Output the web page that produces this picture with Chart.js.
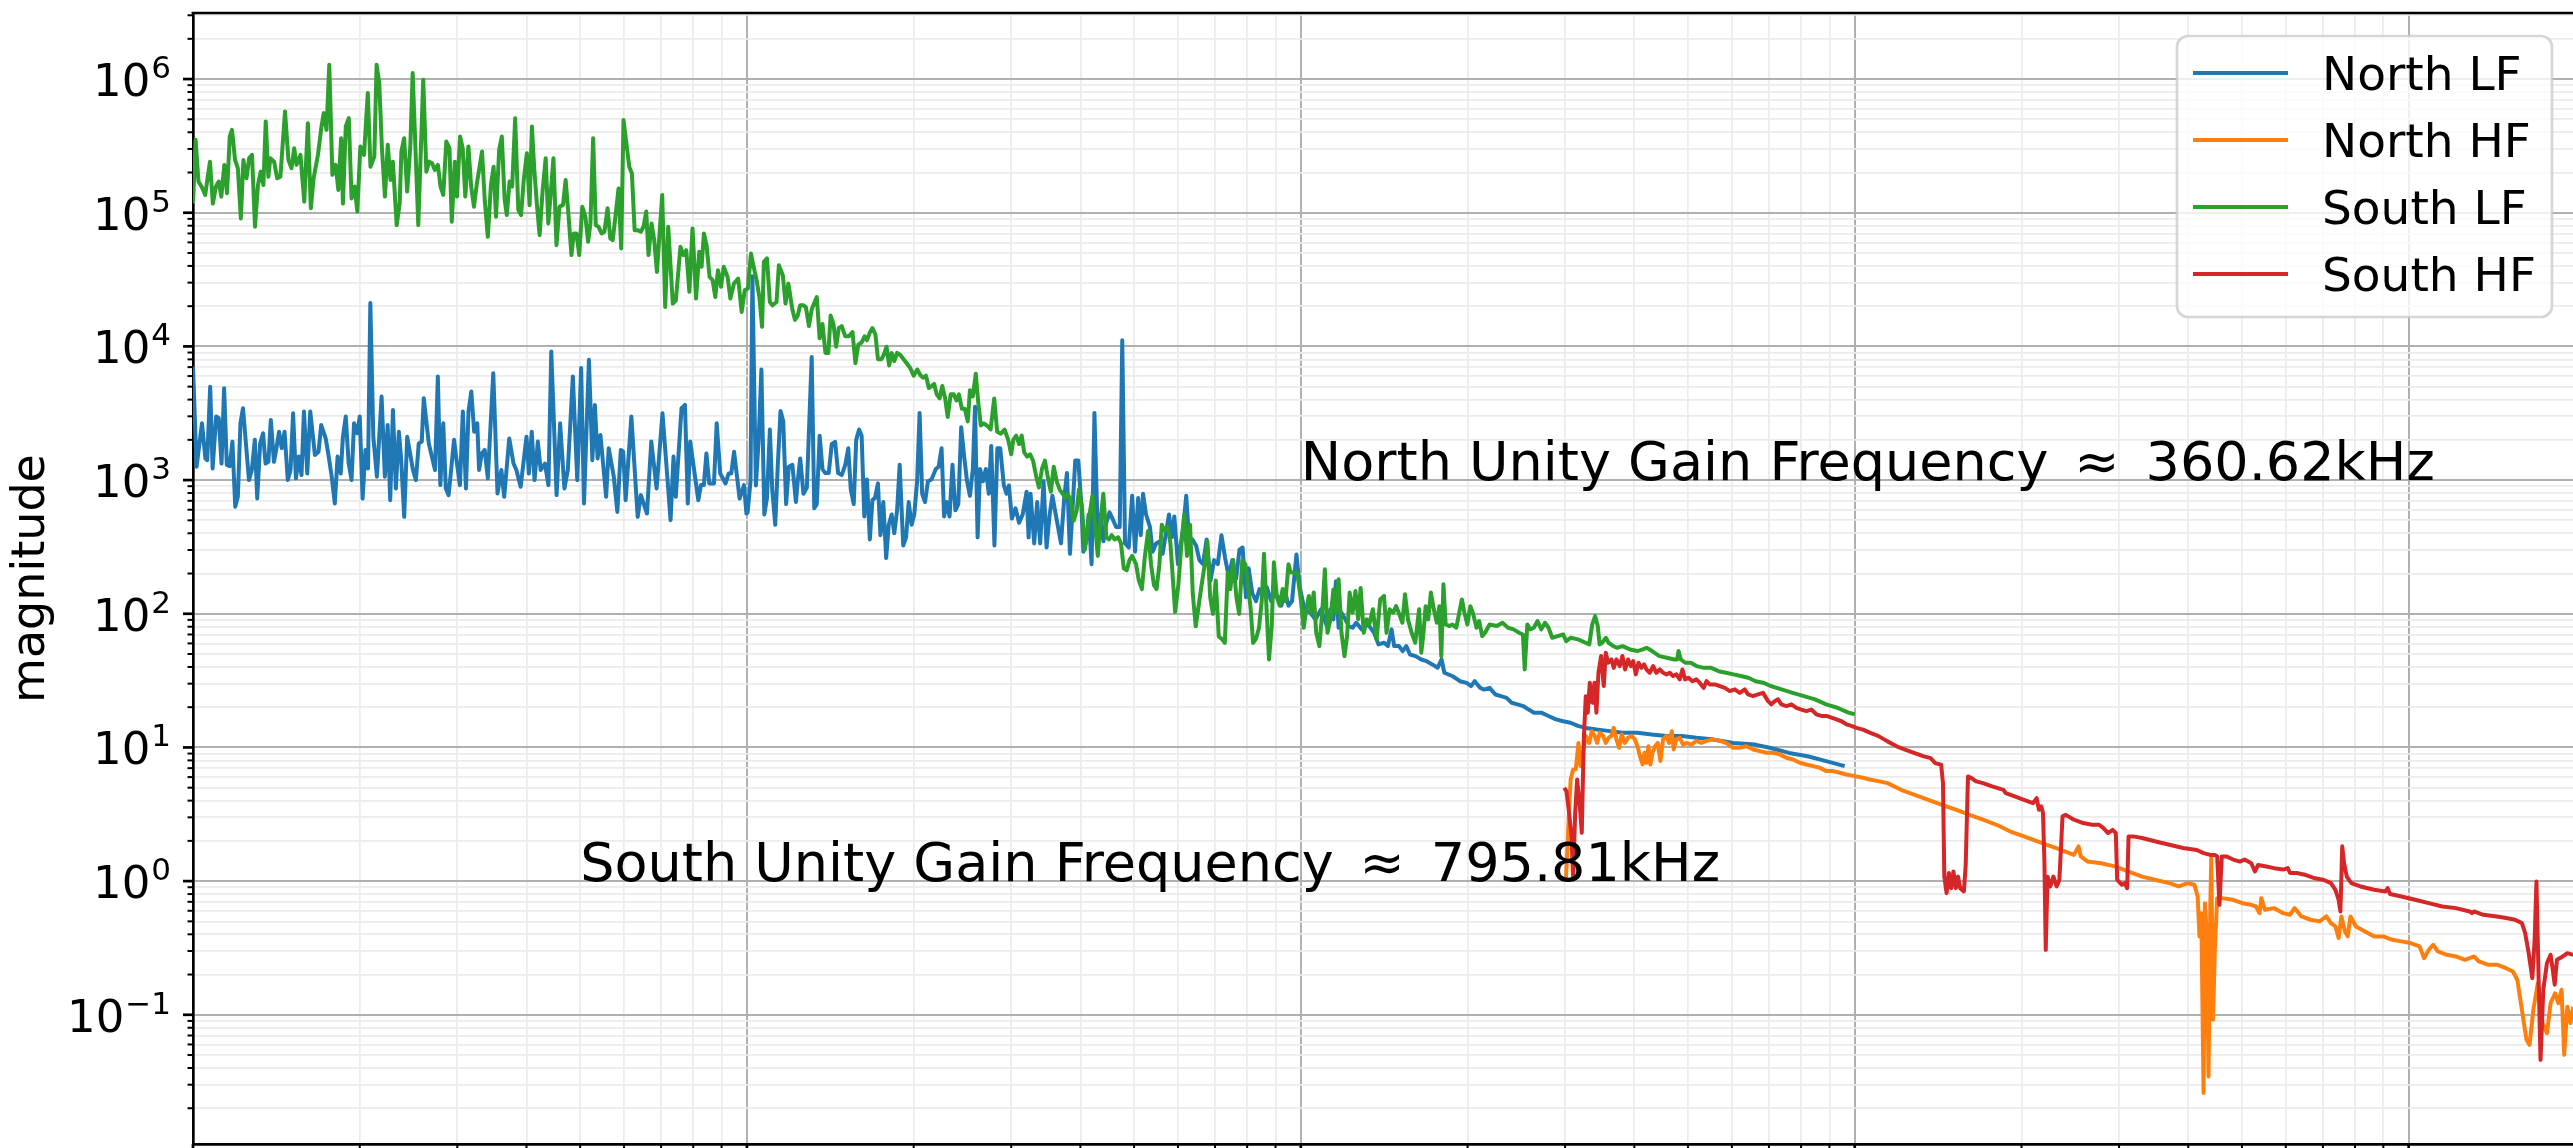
<!DOCTYPE html>
<html>
<head>
<meta charset="utf-8">
<script src="https://cdn.jsdelivr.net/npm/chart.js@4.4.1/dist/chart.umd.min.js"></script>
<style>
  html, body { margin: 0; padding: 0; background: #fff; }
  canvas { display: block; }
</style>
</head>
<body>
<canvas id="bode" width="2573" height="1148"></canvas>
<script>
// [frequency, magnitude] pairs
const northLF = [
  [100,7080],[101.5,1260],[103.8,2660],[105.3,1450],[106.1,1410],[107.4,5000],[108.5,1220],[110.1,2990],[111.3,2900],[112.6,1330],
  [113.8,4870],[115.1,1300],[116.5,1270],[117.8,1940],[119.2,631],[120.5,750],[121.8,2660],[123.1,3450],[124.6,1880],[126.2,1000],
  [127.7,1190],[129.3,2000],[130.6,728],[132.2,1880],[133.8,2240],[135.2,1330],[136.8,1370],[138.2,2820],[140,1370],[141.3,1680],
  [143,2300],[144.6,1730],[146.3,2300],[148.3,1000],[150,1190],[151.6,3160],[153.4,1030],[155.2,1500],[157,1090],[158.6,3260],
  [160.8,1120],[162.8,3260],[166,1540],[168.5,1630],[170.4,2580],[173.6,2050],[175.8,1500],[178,1060],[180.3,668],[182.4,1500],
  [184.8,1120],[186.5,2110],[188.7,2990],[191,1330],[193.3,1000],[195.3,2660],[198,2240],[200,2990],[202.4,728],[204.8,1680],
  [207,1220],[209,21100],[211.6,2110],[214.8,1060],[219,4220],[222,1060],[224.6,2580],[227,708],[229.6,3350],[232.4,866],
  [235.3,2300],[237.4,1500],[240.6,531],[243.6,2110],[246.6,1580],[249.5,1190],[252.6,1000],[255.6,1880],[258.8,1940],[261,4100],
  [266.5,1880],[273.5,1190],[276.7,5960],[279.6,917],[283,2660],[286,866],[289.4,772],[296,2000],[299.6,1330],[303.3,917],
  [307,3260],[311,866],[314.3,3260],[318,4600],[321.8,2300],[326,2660],[328.4,1190],[332.2,1580],[336.2,1680],[340.6,1030],
  [348.4,6310],[354.6,794],[360.3,1190],[364.6,750],[372.3,2050],[379,1330],[383.5,1190],[390.4,891],[400,2110],[404,1120],
  [408.8,2300],[413.6,1000],[419.3,1940],[424.3,1190],[431.8,1330],[438.2,917],[443.4,9170],[453.3,772],[460,2660],[468.3,866],
  [475,1190],[485,5960],[494,1000],[502,6880],[508,668],[518.5,7940],[526,1410],[531.5,3650],[537.6,1450],[544,2170],
  [557,750],[563,1730],[575,1060],[583.5,578],[592,1680],[598,1630],[604,708],[618.5,2990],[635,531],[643.5,772],
  [660,562],[672,1940],[687,866],[704,3160],[719,1000],[728,501],[737,1500],[744,750],[762,3450],[773,3650],
  [782,668],[790,1940],[817,708],[826,917],[836,917],[845,1580],[855,944],[872,944],[882,2660],[895,1120],
  [915,944],[927,1120],[937,1120],[948,1630],[970,728],[988,917],[998,562],
  [1003,573],[1015,980],[1023,33500],[1038,912],[1050,2000],[1062,6720],[1075,553],[1087,736],[1100,2390],[1111,849],
  [1125,463],[1137,1300],[1150,3290],[1163,2750],[1177,661],[1190,1260],[1208,1300],[1226,685],[1235,980],[1248,1450],
  [1265,790],[1283,880],[1309,8320],[1323,615],[1337,661],[1353,2150],[1369,1210],[1384,1130],[1405,1130],[1423,1860],
  [1443,1930],[1461,1130],[1483,1090],[1505,1300],[1524,1730],[1540,849],[1559,661],[1575,2000],[1594,2390],[1611,2150],
  [1629,534],[1647,1010],[1667,360],[1685,710],[1703,736],[1724,945],[1742,387],[1763,685],[1784,261],[1803,463],
  [1825,553],[1845,401],[1867,594],[1887,1300],[1915,324],[1938,373],[1959,685],[1983,463],[2005,553],[2029,980],
  [2050,3180],[2072,790],[2097,685],[2122,980],[2154,1010],[2193,1210],[2219,1260],[2246,1730],[2270,534],[2294,685],
  [2322,534],[2350,1300],[2379,594],[2408,661],[2437,2480],[2467,1500],[2497,980],[2527,763],[2558,1210],[2581,3530],
  [2609,373],[2636,1210],[2668,980],[2700,1210],[2733,790],[2761,1800],[2798,324],[2832,1730],[2866,1730],[2910,912],
  [2941,790],[2972,912],[3008,515],[3054,615],[3100,480],[3147,553],[3198,819],[3225,373],[3251,790],[3301,336],
  [3342,685],[3384,336],[3432,980],[3475,313],[3520,553],[3560,763],[3610,553],[3690,336],[3740,736],[3782,1130],
  [3830,281],[3870,594],[3915,1400],[3965,1400],[4015,661],[4050,291],[4100,360],[4140,553],[4190,235],[4240,3180],
  [4300,373],[4350,553],[4400,348],[4455,480],[4515,573],[4570,515],[4640,446],[4710,446],[4760,11100],[4815,336],
  [4890,313],[4960,763],[5020,291],[5085,736],[5140,387],[5190,790],[5255,553],[5340,446],[5400,291],[5480,336],
  [5560,348],[5630,281],[5700,387],[5780,553],[5850,373],[5910,534],[6000,235],[6060,313],[6140,463],[6210,763],
  [6290,336],[6370,360],[6470,324],[6560,252],[6660,235],[6760,360],[6870,177],[6970,252],[7080,235],[7190,387],
  [7300,261],[7410,190],[7520,252],[7640,183],[7750,302],[7850,313],[7960,133],[8050,219],[8170,143],[8300,124],
  [8420,153],[8550,143],[8680,158],[8840,124],[8970,143],[9110,133],[9220,115],[9360,148],[9500,115],[9640,124],
  [9820,278],[9950,160],
  [10150,108],[10390,102],[10630,90.8],[10880,108],[11140,80.9],[11310,108],[11450,90.8],[11570,175],[11700,78.6],[11840,102],
  [12030,90.8],[12210,80.9],[12400,78.6],[12590,85.6],[12880,76.4],[13080,83.2],[13290,80.9],[13560,72.1],[13810,59],[14140,60.7],
  [14360,57.3],[14580,76.4],[14740,57.3],[15040,57.3],[15270,52.6],[15500,57.3],[15740,49.6],[16110,48.2],[16490,45.5],[16870,44.2],
  [17270,41.8],[17660,39.5],[17950,45.5],[18160,36.2],[18800,34.1],[19380,31.3],[19920,30.4],[20290,28.8],[20600,31.3],[21080,27.9],
  [21420,27.1],[21920,27.9],[22450,24.9],[22970,24.2],[23520,23.5],[24020,21.6],[24620,21],[25200,20.4],[25780,19.2],[26360,18.2],
  [27160,18.2],[28000,17.2],[28870,16.2],[29760,15.7],[30680,15.3],[31640,14.5],[32670,14],[34200,13.6],[35840,13.3],[38100,12.9],
  [40500,12.9],[43000,12.5],[45760,12.2],[48730,12.2],[51800,11.8],[55100,11.5],[60400,10.8],[66100,10.5],[70500,9.9],[76100,9.1],
  [82200,8.6],[88800,7.9],[95900,7.25]
];

const northHF = [
  [30100,1.0],[30500,3.44],[30700,5.76],[31020,6.85],[31360,6.85],[31710,10.8],[31980,7.25],[32330,9.12],[32690,12.2],[33150,10.8],
  [33510,13.2],[33930,12.2],[34270,10.8],[34650,12.9],[35130,12.2],[35520,10.8],[35920,11.8],[36370,12.2],[36720,14],[37130,11.5],
  [37550,9.94],[37960,12.5],[38440,10.8],[38980,11.8],[39530,12.2],[40080,11.5],[40530,10.2],[40930,8.61],[41400,7.46],[41720,9.12],
  [42070,7.68],[42420,10.2],[42770,7.46],[43130,9.12],[43600,10.2],[44090,10.8],[44580,7.91],[45080,11.5],[45710,12.2],[46220,10.8],
  [46730,13.2],[47120,9.66],[47640,11.5],[48310,11.8],[48980,10.5],[49660,10.8],[50700,10.5],[51760,11.2],[52860,10.8],[53990,11.2],
  [55490,11.5],[57060,11.2],[58660,10.8],[60300,9.94],[62000,9.94],[63730,10.2],[65520,9.66],[67360,9.39],[69260,9.12],[71200,9.12],
  [73200,8.87],[75260,8.37],[77370,8.13],[79550,7.68],[81780,7.46],[84090,7.25],[86450,7.05],[88890,6.65],[91390,6.65],[93950,6.46],
  [96600,6.28],[100000,6.1],[103500,5.93],[106400,5.76],[110200,5.6],
  [114600,5.41],[121200,4.82],[128300,4.42],[135800,4.06],[143700,3.72],[152200,3.42],[161100,3.13],[170400,2.88],[180300,2.64],[191000,2.35],
  [202000,2.16],[213800,1.98],[222100,1.87],[230700,1.77],[239500,1.67],[248700,1.57],[253500,1.82],[255900,1.53],[263300,1.4],[278600,1.36],
  [294900,1.29],[312100,1.18],[330300,1.08],[349500,1.02],[369900,0.966],[384300,0.912],[399000,0.966],[410400,0.94],[416000,0.768],[419100,0.386],
  [422300,0.576],[426300,0.026],[428700,0.684],[432000,0.41],[435200,0.0346],[438500,0.684],[440200,1.53],[443400,0.0918],[446800,0.306],[451100,0.746],
  [459800,0.746],[482000,0.725],[500600,0.684],[519900,0.665],[529800,0.646],[537900,0.576],[542000,0.746],[550300,0.61],[571500,0.628],[593600,0.576],
  [610600,0.56],[622300,0.628],[640300,0.544],[664900,0.514],[690500,0.5],[710300,0.544],[723800,0.485],[737600,0.458],[747400,0.375],[755900,0.544],
  [767400,0.42],[776200,0.386],[785100,0.544],[803100,0.458],[834100,0.42],[866200,0.386],[899500,0.386],[934100,0.364],[970200,0.354],[1007700,0.344],
  [1046400,0.325],[1066300,0.265],[1086800,0.306],[1107400,0.334],[1128500,0.298],[1172000,0.281],[1217000,0.273],[1264000,0.258],[1313000,0.273],[1338000,0.251],
  [1390000,0.237],[1443000,0.237],[1499000,0.223],[1542000,0.211],[1571000,0.183],[1601000,0.109],[1632000,0.065],[1653000,0.0596],[1679000,0.109],[1711000,0.173],
  [1744000,0.0867],[1777000,0.073],[1804000,0.122],[1838000,0.145],[1863000,0.122],[1888000,0.154],[1909000,0.0502],[1934000,0.115],[1960000,0.0867],[1982000,0.115]
];

const southLF = [
  [100,1.17e5],[101.1,3.51e5],[102.3,1.71e5],[103.6,1.57e5],[105.2,1.36e5],[107.3,2.41e5],[108.6,1.17e5],[110,1.57e5],[111.3,1.71e5],[112.5,1.32e5],
  [113.9,2.28e5],[115.2,1.4e5],[116.5,3.72e5],[117.6,4.17e5],[119.1,2.48e5],[120.5,2.15e5],[122,9.07e4],[123.3,2.48e5],[124.9,1.81e5],[126.3,2.56e5],
  [127.8,2.71e5],[129.4,7.85e4],[131,1.61e5],[132.5,2.03e5],[134,1.61e5],[135.3,4.82e5],[136.8,1.86e5],[137.9,2.56e5],[140.1,2.41e5],[141.9,1.81e5],
  [143.8,1.86e5],[146.6,5.72e5],[148.7,2.48e5],[150.6,2.15e5],[152.3,3.04e5],[153.8,2.28e5],[156.3,2.71e5],[158.8,1.21e5],[161.2,4.68e5],[163.2,1.08e5],
  [165.1,1.81e5],[168.1,2.71e5],[170.6,4.42e5],[172.2,5.56e5],[174.2,4.17e5],[176.2,1.28e6],[178.5,1.92e5],[180.9,2.28e5],[183,1.48e5],[185.1,3.61e5],
  [186.5,1.17e5],[188.7,4.42e5],[191.1,5.1e5],[193.3,1.28e5],[195.8,1.57e5],[198,1.02e5],[200.5,3.13e5],[203.6,2.71e5],[206.8,7.85e5],[209.1,2.21e5],
  [212.5,2.63e5],[214.5,1.28e6],[216.9,9.33e5],[219.3,3.04e5],[222.1,1.32e5],[224.7,3.22e5],[227.3,1.76e5],[229.5,2.41e5],[233.2,8.08e4],[236.1,1.17e5],
  [237.8,2.87e5],[240.5,3.61e5],[243.6,1.44e5],[246.8,3.13e5],[249.2,1.11e6],[255.1,8.08e4],[260.4,9.89e5],[263.8,2.03e5],[266.8,2.41e5],[270.3,2.34e5],
  [273.3,2.09e5],[276.8,2.28e5],[279.8,1.57e5],[283,1.36e5],[286.6,3.41e5],[290.4,3.04e5],[293.2,8.56e4],[297,2.41e5],[299.6,1.32e5],[303.5,3.72e5],
  [306.8,3.04e5],[310.2,1.32e5],[314.2,3.13e5],[317.8,1.57e5],[321.5,1.11e5],[325.5,1.66e5],[332.5,2.87e5],[336.3,1.24e5],[340.6,6.61e4],[345,1.61e5],
  [348.9,2.21e5],[352.4,9.33e4],[357,2.95e5],[361,3.72e5],[365.1,1.28e5],[368.6,9.6e4],[372.8,1.71e5],[376.9,1.57e5],[381.6,5.1e5],[386.6,1.05e5],
  [391,9.6e4],[395.5,1.76e5],[400.6,2.79e5],[405.2,1.14e5],[409.1,4.42e5],[413.2,2.09e5],[417.8,1.14e5],[422.4,6.8e4],[427.8,1.48e5],[433.2,2.56e5],
  [438,8.32e4],[442.9,1.48e5],[447.4,2.56e5],[453.1,5.72e4],[458.8,1.11e5],[465.5,1.14e5],[470.7,1.76e5],[476.8,9.07e4],[482.2,4.82e4],[486.9,7e4],
  [492.3,7e4],[498,4.82e4],[504.4,1.11e5],[511,9.33e4],[516.8,6.06e4],[521.8,8.32e4],[527.7,3.61e5],[533.5,8.08e4],[539.7,7.85e4],[546.7,7e4],
  [553,7.2e4],[560.3,1.08e5],[566.7,6.42e4],[572.4,6.24e4],[578.9,9.33e4],[586.4,1.52e5],[593,5.4e4],[598.7,4.95e5],[607.4,3.04e5],[613.2,2.21e5],
  [619.9,1.97e5],[627,7.41e4],[635.1,7.41e4],[643.4,7.2e4],[650.6,7.85e4],[658,1.02e5],[664.3,4.82e4],[672.6,8.32e4],[680.2,6.24e4],[687.9,3.61e4],
  [703.2,1.36e5],[712,1.97e4],[721,7.85e4],[734.8,2.09e4],[744.2,2.21e4],[758.5,5.56e4],[768.4,4.82e4],[777.1,5.25e4],[787.2,2.56e4],[797.6,7.63e4],
  [809.5,2.28e4],[820.1,5.1e4],[828.2,3.94e4],[836.3,7e4],[845.5,5.72e4],[856.2,3.31e4],[867.1,3.13e4],[876.8,2.34e4],[886.6,3.72e4],[897.9,2.79e4],
  [908,3.94e4],[922.8,3.31e4],[933.5,2.28e4],[947.4,2.95e4],[964.3,3.22e4],[978.4,1.81e4],[991,2.63e4],[1004,2.71e4],[1017,4.95e4],[1027,4.05e4],
  [1041,3.13e4],[1053,2.34e4],[1065,1.4e4],[1073,4.29e4],[1087,4.55e4],[1100,2.15e4],[1112,2.03e4],[1131,2.15e4],[1142,4.05e4],[1161,3.41e4],
  [1174,2.09e4],[1188,2.95e4],
  [1208,18900],[1221,15800],[1235,17000],[1248,20300],[1265,20300],[1278,19600],[1294,14200],[1309,18900],[1323,21100],[1337,23400],
  [1353,11500],[1369,14700],[1386,8940],[1403,8940],[1416,17000],[1433,14700],[1449,9950],[1465,13700],[1483,14200],[1505,11900],
  [1527,11900],[1551,12800],[1570,7480],[1589,10300],[1611,10700],[1631,11900],[1647,11100],[1668,12800],[1685,13700],[1706,12300],
  [1724,8030],[1750,8030],[1766,8630],[1787,9950],[1806,7210],[1825,8940],[1845,7750],[1867,8940],[1892,8630],[1930,7750],
  [1969,6960],[2000,6040],[2030,6720],[2060,6040],[2082,5830],[2105,6040],[2130,4880],[2155,5050],[2178,5240],[2201,4380],
  [2228,4080],[2252,5050],[2280,4080],[2304,2960],[2333,4380],[2362,4380],[2389,3940],[2414,4380],[2444,3410],[2474,3410],
  [2504,2750],[2527,4700],[2558,4230],[2589,6250],[2616,3800],[2644,2560],[2677,2660],[2712,2560],[2754,2390],[2795,4080],
  [2830,2300],[2874,2220],[2918,2390],[2963,2000],[3000,1560],[3026,2000],[3063,2150],[3100,1860],[3134,2150],[3167,1610],
  [3205,1500],[3245,1560],[3285,1400],[3331,1050],[3367,880],[3409,1210],[3451,1400],[3493,1050],[3537,819],[3580,1260],
  [3625,979],[3670,849],[3715,790],[3760,736],[3794,790],[3841,710],[3890,497],[3939,594],[3976,849],[4025,638],
  [4075,302],[4110,387],[4155,553],[4205,763],[4260,416],[4300,271],[4345,480],[4400,790],[4455,373],[4505,360],
  [4555,387],[4610,360],[4680,373],[4735,336],[4790,219],[4850,211],[4905,252],[4960,271],[5040,235],[5100,177],
  [5165,153],[5230,271],[5300,416],[5365,235],[5430,164],[5490,153],[5555,235],[5610,463],[5680,416],[5750,446],
  [5815,336],[5885,164],[5930,103],[6010,164],[6080,313],[6160,553],[6230,271],[6310,463],[6380,143],[6460,80.5],
  [6540,115],[6620,164],[6700,227],[6780,348],[6860,133],[6940,99.8],[7020,177],[7110,67.4],[7200,65],[7290,60.5],
  [7380,204],[7460,153],[7550,252],[7650,133],[7740,99.8],[7840,252],[7940,235],[8030,164],[8120,107],[8200,60.5],
  [8300,65],[8400,77.8],[8500,124],[8580,281],[8680,99.8],[8760,45.5],[8860,80.5],[8940,243],[9050,133],[9160,115],
  [9270,153],[9380,124],[9500,235],[9580,204],
  [9850,203],[10000,128],[10120,78.6],[10230,108],[10340,136],[10440,102],[10550,144],[10660,72.1],[10800,57.3],[10930,102],
  [11050,215],[11170,72.1],[11310,90.8],[11450,152],[11570,102],[11700,181],[11840,72.1],[11990,48.2],[12120,68.1],[12250,144],
  [12400,102],[12550,148],[12690,90.8],[12820,156],[12990,72.1],[13150,90.8],[13290,83.2],[13490,108],[13700,64.3],[13910,128],
  [14130,136],[14280,72.1],[14460,108],[14680,102],[14860,114],[15020,102],[15250,85.6],[15420,140],[15610,90.8],[15850,72.1],
  [16090,60.7],[16350,108],[16500,51.1],[16650,72.1],[16800,114],[16980,90.8],[17170,144],[17380,108],[17600,85.6],[17790,114],
  [17930,48.2],[18090,166],[18260,83.2],[18550,80.9],[18780,83.2],[19080,78.6],[19320,102],[19530,128],[19740,102],[19980,83.2],
  [20230,114],[20440,102],[20760,78.6],[20990,88.2],[21250,68.1],[21510,72.1],[21910,83.2],[22590,80.9],[23120,85.6],[23660,78.6],
  [24210,76.4],[24780,72.1],[25170,70],[25360,38.3],[25640,83.2],[25940,76.4],[26340,78.6],[26750,88.2],[27170,76.4],[27590,85.6],
  [28000,78.6],[28430,66.1],[29090,68.1],[29770,70],[30130,62.4],[30690,66.1],[31650,64.3],[32670,60.7],[33170,59],[33580,83.2],
  [33990,96],[34360,80.9],[34620,59],[35000,60.7],[35540,66.1],[35930,60.7],[36650,57.3],[37220,55.7],[38100,57.3],[39290,54.1],
  [40510,52.6],[41450,54.1],[42090,55.7],[43070,52.6],[44400,48.2],[45780,46.9],[47200,45.5],[47780,45.5],[48070,52.6],[48520,45.5],
  [49420,43],[50580,43],[51800,40.6],[53400,39.4],[55060,39.4],[56780,37.2],[58550,36.2],[60400,35.2],[62300,34.2],[64240,33.2],
  [66240,31.3],[68310,30.5],[70500,28.8],[73780,27.2],[77270,25.6],[80940,24.2],[84780,22.9],[88800,21],[93000,19.8],[97400,18.2],
  [100000,17.7]
];

const southHF = [
  [29880,4.99],[30170,4.71],[30500,3.24],[30800,2.17],[31020,1.03],[31280,3.24],[31540,5.76],[31890,3.64],[32150,2.3],[32420,11.5],
  [32690,24.2],[32960,18.2],[33240,30.5],[33610,21.6],[33890,30.5],[34170,18.2],[34460,36.2],[34840,48.3],[35230,28.8],[35520,51.1],
  [35870,43],[36370,45.5],[36720,39.4],[37130,45.5],[37650,40.6],[38070,48.3],[38490,38.3],[38980,45.5],[39420,40.6],[39800,44.2],
  [40250,35.2],[40700,43],[41200,39.4],[41650,41.8],[42070,38.3],[42650,36.2],[43250,40.6],[43840,36.2],[44460,38.3],[45080,36.2],
  [45710,35.2],[46350,36.2],[46990,34.2],[47640,35.2],[48310,32.3],[48850,38.3],[49400,32.3],[50090,33.2],[50930,31.3],[51760,32.3],
  [52480,30.5],[53350,27.9],[53990,31.3],[54730,29.6],[55880,29.6],[57060,28.8],[58260,27.9],[59480,26.4],[60720,27.2],[62000,25.6],
  [63300,27.2],[64180,24.9],[65520,24.2],[66890,24.9],[68300,25.6],[69740,22.2],[70700,21],[71680,22.2],[72690,22.9],[73710,21],
  [75260,20.4],[76850,21],[78460,19.8],[80110,19.2],[81780,18.7],[83500,19.2],[85250,17.7],[87040,17.2],[88890,17.2],[90750,16.7],
  [92670,16.2],[94610,15.7],[96600,14.9],[98630,14.5],[100700,14],[103500,13.6],[106400,12.9],[110200,12.2],
  [114600,11.1],[119000,10.2],[123600,9.6],[128300,9.07],[133300,8.57],[137100,8.32],[139700,7.64],[143200,7.42],[144300,5.41],[145100,1.08],
  [146500,0.813],[147900,1.15],[149300,0.886],[150700,1.18],[152200,0.886],[153600,1.08],[155000,0.886],[157400,0.837],[158600,1.32],[160100,6.07],
  [162500,5.9],[165600,5.57],[170400,5.41],[177000,5.11],[185600,4.82],[187300,4.55],[194500,4.3],[202000,4.06],[209800,3.83],[213000,4.18],
  [215000,3.42],[217100,3.62],[218700,3.23],[220000,1.36],[221200,0.306],[222900,1.08],[225400,0.912],[228400,1.08],[231400,0.912],[234100,1.02],
  [237200,3.05],[240400,3.13],[248700,2.88],[258400,2.72],[268300,2.64],[276000,2.64],[281200,2.49],[286600,2.29],[292100,2.42],[296000,2.29],
  [297700,1.02],[303400,0.94],[307400,0.966],[310300,0.886],[312100,2.16],[318100,2.16],[330300,2.1],[349500,1.98],[369900,1.87],[391500,1.77],
  [414400,1.71],[426300,1.62],[438500,1.57],[446800,1.57],[451100,1.53],[455400,0.665],[459800,1.53],[468600,1.53],[482000,1.45],[495900,1.4],
  [505400,1.45],[519900,1.36],[527700,1.18],[534700,1.32],[550300,1.29],[571500,1.25],[593600,1.22],[604900,1.25],[610600,1.15],[628100,1.15],
  [652500,1.11],[677700,1.05],[703100,1.02],[723800,0.966],[737600,0.861],[747400,0.725],[753000,0.593],[758700,1.82],[764500,1.36],[773200,1.08],
  [788000,0.966],[818300,0.912],[866200,0.861],[907800,0.837],[916600,0.886],[925300,0.8],[970200,0.768],[1027000,0.725],[1087000,0.684],[1150000,0.646],
  [1217000,0.628],[1288000,0.593],[1301000,0.576],[1313000,0.593],[1363000,0.56],[1443000,0.544],[1499000,0.529],[1556000,0.514],[1601000,0.485],[1623000,0.408],
  [1647000,0.289],[1672000,0.188],[1688000,0.364],[1701000,0.994],[1717000,0.173],[1730000,0.046],[1750000,0.154],[1777000,0.244],[1804000,0.281],[1817000,0.23],
  [1835000,0.168],[1852000,0.258],[1898000,0.273],[1934000,0.289],[1982000,0.281]
];

const seriesNames = ['North LF', 'North HF', 'South LF', 'South HF'];
const seriesColors = ['#1f77b4', '#ff7f0e', '#2ca02c', '#d62728'];

const xLimits = [100, 1.98e6];
const yLimits = [0.0108, 3.12e6];
const xDecades = [1e2, 1e3, 1e4, 1e5, 1e6];
const yDecades = [1e-2, 1e-1, 1, 1e1, 1e2, 1e3, 1e4, 1e5, 1e6];
const minorSteps = [2, 3, 4, 5, 6, 7, 8, 9];
const yLabelExps = [-1, 0, 1, 2, 3, 4, 5, 6];

const notes = [
  { left: 'North Unity Gain Frequency', right: '360.62kHz', x: 1e4, y: 1e3 },
  { left: 'South Unity Gain Frequency', right: '795.81kHz', x: 500, y: 1 }
];

const FONT = '"DejaVu Sans", "Liberation Sans", sans-serif';

function tickList(decades, lo, hi) {
  const out = [];
  decades.forEach(d => {
    if (d >= lo && d <= hi) out.push({ value: d, major: true });
    minorSteps.forEach(m => {
      const v = d * m;
      if (v >= lo && v <= hi) out.push({ value: v, major: false });
    });
  });
  return out.sort((a, b) => a.value - b.value);
}

const gridColor = c => (c.tick && c.tick.major) ? '#b0b0b0' : '#ebebeb';
const gridWidth = c => (c.tick && c.tick.major) ? 2 : 1.7;

const decor = {
  id: 'decor',
  afterDraw(chart) {
    const { ctx, chartArea: a, scales: { x, y } } = chart;
    ctx.save();
    ctx.strokeStyle = '#000';
    ctx.fillStyle = '#000';

    // top spine
    ctx.lineWidth = 2.7;
    ctx.beginPath();
    ctx.moveTo(a.left - 1.4, a.top);
    ctx.lineTo(a.right, a.top);
    ctx.stroke();

    // tick marks
    y.ticks.forEach(t => {
      const py = y.getPixelForValue(t.value);
      const len = t.major ? 10 : 5.5;
      ctx.lineWidth = t.major ? 2.7 : 2;
      ctx.beginPath();
      ctx.moveTo(a.left - len, py);
      ctx.lineTo(a.left, py);
      ctx.stroke();
    });
    x.ticks.forEach(t => {
      const px = x.getPixelForValue(t.value);
      const len = t.major ? 10 : 5.5;
      ctx.lineWidth = t.major ? 2.7 : 2;
      ctx.beginPath();
      ctx.moveTo(px, a.bottom);
      ctx.lineTo(px, a.bottom + len);
      ctx.stroke();
    });

    // y tick labels, 10 with superscript exponent
    ctx.textBaseline = 'alphabetic';
    yLabelExps.forEach(e => {
      const py = y.getPixelForValue(Math.pow(10, e));
      const sup = e < 0 ? '\u2212' + Math.abs(e) : String(e);
      const rightEdge = 171;
      ctx.font = '31px ' + FONT;
      ctx.textAlign = 'right';
      const supW = ctx.measureText(sup).width;
      ctx.fillText(sup, rightEdge, py - 1);
      ctx.font = '45px ' + FONT;
      ctx.fillText('10', rightEdge - supW - 1, py + 17);
    });

    // y axis title
    ctx.save();
    ctx.translate(44, (a.top + a.bottom) / 2);
    ctx.rotate(-Math.PI / 2);
    ctx.font = '46px ' + FONT;
    ctx.textAlign = 'center';
    ctx.fillText('magnitude', 0, 0);
    ctx.restore();

    // annotations placed at data coordinates
    ctx.save();
    ctx.beginPath();
    ctx.rect(a.left, a.top, a.right - a.left, a.bottom - a.top);
    ctx.clip();
    ctx.font = '54px ' + FONT;
    ctx.textAlign = 'left';
    notes.forEach(n => {
      let px = x.getPixelForValue(n.x);
      const py = y.getPixelForValue(n.y);
      const gap = 26;
      ctx.fillText(n.left, px, py);
      px += ctx.measureText(n.left).width + gap;
      ctx.fillText('\u2248', px, py);
      px += ctx.measureText('\u2248').width + gap;
      ctx.fillText(n.right, px, py);
    });
    ctx.restore();

    // legend, upper right
    const bw = 375, bh = 281;
    const bx = a.right - 21 - bw, by = a.top + 23;
    ctx.beginPath();
    ctx.roundRect(bx, by, bw, bh, 11);
    ctx.fillStyle = 'rgba(255,255,255,0.8)';
    ctx.fill();
    ctx.lineWidth = 2.7;
    ctx.strokeStyle = 'rgba(204,204,204,0.8)';
    ctx.stroke();
    ctx.font = '47px ' + FONT;
    ctx.textAlign = 'left';
    chart.data.datasets.forEach((ds, i) => {
      const ry = by + 37 + i * 67;
      ctx.strokeStyle = ds.borderColor;
      ctx.lineWidth = 4;
      ctx.beginPath();
      ctx.moveTo(bx + 16, ry);
      ctx.lineTo(bx + 111, ry);
      ctx.stroke();
      ctx.fillStyle = '#000';
      ctx.fillText(ds.label, bx + 145, ry + 17);
    });
    ctx.restore();
  }
};

const series = [northLF, northHF, southLF, southHF];

new Chart(document.getElementById('bode'), {
  type: 'line',
  data: {
    datasets: series.map((pts, i) => ({
      label: seriesNames[i],
      data: pts,
      borderColor: seriesColors[i],
      backgroundColor: seriesColors[i],
      borderWidth: 4,
      pointRadius: 0,
      tension: 0,
      fill: false,
      order: 4 - i
    }))
  },
  options: {
    responsive: false,
    animation: false,
    devicePixelRatio: 1,
    layout: { padding: { top: 13, left: 0, right: 0, bottom: 0 } },
    elements: { line: { borderJoinStyle: 'round', borderCapStyle: 'butt' } },
    plugins: { legend: { display: false }, tooltip: { enabled: false } },
    scales: {
      x: {
        type: 'logarithmic',
        min: xLimits[0],
        max: xLimits[1],
        afterBuildTicks: s => { s.ticks = tickList(xDecades, xLimits[0], xLimits[1]); },
        afterFit: s => { s.height = 4; },
        ticks: { display: false },
        grid: { color: gridColor, lineWidth: gridWidth, drawTicks: false },
        border: { color: '#000', width: 2.7 }
      },
      y: {
        type: 'logarithmic',
        min: yLimits[0],
        max: yLimits[1],
        afterBuildTicks: s => { s.ticks = tickList(yDecades, yLimits[0], yLimits[1]); },
        afterFit: s => { s.width = 193; },
        ticks: { display: false },
        grid: { color: gridColor, lineWidth: gridWidth, drawTicks: false },
        border: { color: '#000', width: 2.7 }
      }
    }
  },
  plugins: [decor]
});
</script>
</body>
</html>
